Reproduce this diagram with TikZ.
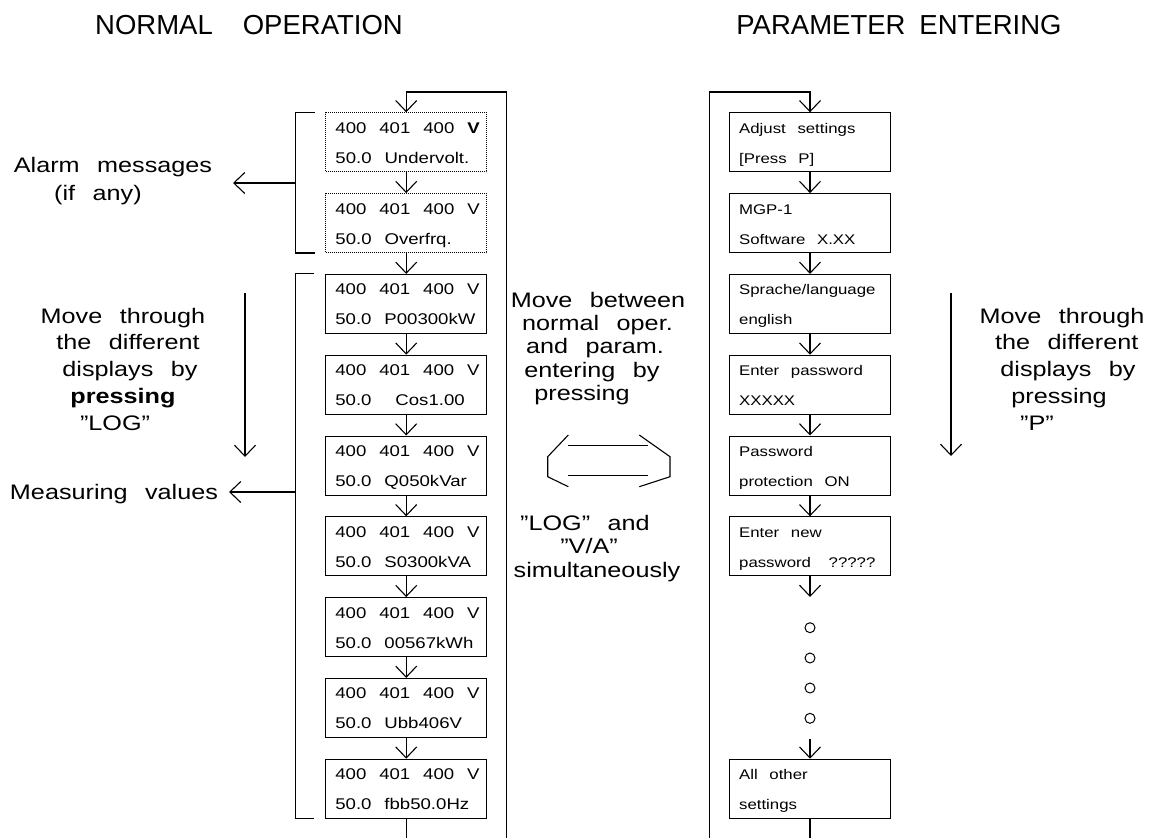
\documentclass[tikz,border=0pt]{standalone}
\usepackage{fontspec}
\setmainfont{Liberation Sans}[FakeStretch=1.2, WordSpace=2.5]
\newfontfamily\titlefont{Liberation Sans}[WordSpace=2.5]
\usetikzlibrary{arrows.meta,calc}
\tikzset{
  ln/.style={line width=1.1pt},
  vhead/.style={-{Straight Barb[length=11pt,width=21pt,line width=1.1pt]}},
  dbox/.style={draw, line width=1.1pt, minimum width=161pt, minimum height=59pt, inner sep=0pt, anchor=north},
  alarmbox/.style={dbox, line width=0.9pt, dash pattern=on 1pt off 1pt},
  ltxt/.style={anchor=base west, inner sep=0pt, font=\fontsize{15.5}{18}\selectfont},
  rtxt/.style={anchor=base west, inner sep=0pt, font=\fontsize{14}{16}\selectfont},
  side/.style={anchor=base, inner sep=0pt, font=\fontsize{21}{24}\selectfont},
  ttl/.style={anchor=base, inner sep=0pt, font=\titlefont\fontsize{27.5}{32}\selectfont},
  dotc/.style={circle, draw, line width=1pt, minimum size=10pt, inner sep=0pt},
}
\begin{document}
\begin{tikzpicture}[x=1pt,y=-1pt]
\useasboundingbox (0,0) rectangle (1153,838);

% titles
\node[ttl] (t1) at (249,34) {NORMAL\hspace{30pt}OPERATION};
\node[ttl] (t2) at (899,34) {PARAMETER\hspace{14pt}ENTERING};

% ---------------- left column ----------------
\node[alarmbox] (b1) at (406.2,112.3) {};
\node[alarmbox] (b2) at (406.2,193.1) {};
\foreach \i in {3,...,9}{
  \node[dbox] (b\i) at (406.2,{112.3+(\i-1)*80.8}) {};
}
\foreach \i/\u in {1/{50.0 Undervolt.},2/{50.0 Overfrq.},3/{50.0 P00300kW},
                   4/{50.0\hspace{11pt} Cos1.00},5/{50.0 Q050kVar},6/{50.0 S0300kVA},
                   7/{50.0 00567kWh},8/{50.0 Ubb406V},9/{50.0 fbb50.0Hz}}{
  \ifnum\i=1
    \node[ltxt] (bt\i) at ($(b\i.north west)+(10,21)$) {400 401 400 \textbf{V}};
  \else
    \node[ltxt] (bt\i) at ($(b\i.north west)+(10,21)$) {400 401 400 V};
  \fi
  \node[ltxt] (bu\i) at ($(b\i.north west)+(10,51)$) {\u};
}
\foreach \i in {1,...,8}{
  \pgfmathtruncatemacro\j{\i+1}
  \draw[ln,vhead] (b\i.south) -- (b\j.north);
}
\coordinate (lt) at (406.2,92);
\coordinate (lb) at (506.5,838);
\coordinate (lc) at (406.2,838);
\draw[ln,vhead] (lb) |- (lt) -- (b1.north);
\draw[ln] (b9.south) -- (lc);

% brackets
\draw[ln] ($(b1.north west)+(-10.7,0)$) -- ++(-19.3,0) coordinate (ab1)
          |- ($(b2.south west)+(-10.7,0)$);
\draw[ln] ($(b3.north west)+(-10.7,0)$) -- ++(-19.3,0) coordinate (mb1)
          |- ($(b9.south west)+(-10.7,0)$);
\coordinate (am) at (296,183);
\coordinate (amtip) at (233,183);
\draw[ln,vhead] (am) -- (amtip);
\coordinate (mm) at (296,492);
\coordinate (mmtip) at (229,492);
\draw[ln,vhead] (mm) -- (mmtip);

% left texts
\node[side] (al1) at (113,172) {Alarm messages};
\node[side] (al2) at (98,200) {(if any)};
\node[side] (mv) at (114,499) {Measuring values};

\node[side] (lm1) at (123,323) {Move through};
\node[side] (lm2) at (128,349.5) {the different};
\node[side] (lm3) at (130,376.5) {displays by};
\node[side] (lm4) at (123,403) {\bfseries pressing};
\node[side] (lm5) at (115,430) {”LOG”};
\coordinate (la1) at (245,293);
\coordinate (la2) at (245,457);
\draw[ln,vhead] (la1) -- (la2);

% middle
\node[side] (mt1) at (598,307) {Move between};
\node[side] (mt2) at (597.5,330) {normal oper.};
\node[side] (mt3) at (595,353) {and param.};
\node[side] (mt4) at (592,377) {entering by};
\node[side] (mt5) at (582,400) {pressing};
\node[side] (mt6) at (585,530) {”LOG” and};
\node[side] (mt7) at (589,553) {”V/A”};
\node[side] (mt8) at (597,577) {simultaneously};
\draw[ln] (568.3,435) -- (547.7,456.7) -- (547.7,476.7) -- (568.3,486.7);
\draw[ln] (639.3,435) -- (670,456.7) -- (670,476.7) -- (639.3,486.7);
\draw[ln] (568.3,445.7) -- (648.3,445.7);
\draw[ln] (568.3,475.7) -- (648.3,475.7);

% ---------------- right column ----------------
\foreach \i/\k in {1/0,2/1,3/2,4/3,5/4,6/5,7/8}{
  \node[dbox] (r\i) at (810,{112.3+\k*80.8}) {};
}
\foreach \i/\a/\b in {1/{Adjust settings}/{[Press P]},
                      2/{MGP-1}/{Software X.XX},
                      3/{Sprache/language}/{english},
                      4/{Enter password}/{XXXXX},
                      5/{Password}/{protection ON},
                      6/{Enter new}/{password\hspace{6pt} ?????},
                      7/{All other}/{settings}}{
  \node[rtxt] (rt\i) at ($(r\i.north west)+(10,21)$) {\a};
  \node[rtxt] (ru\i) at ($(r\i.north west)+(10,51)$) {\b};
}
\foreach \i in {1,...,5}{
  \pgfmathtruncatemacro\j{\i+1}
  \draw[ln,vhead] (r\i.south) -- (r\j.north);
}
\coordinate (rt) at (810,92);
\coordinate (rb) at (709.3,838);
\coordinate (rc) at (810,838);
\draw[ln,vhead] (rb) |- (rt) -- (r1.north);
\coordinate (rd1) at (810,597);
\draw[ln,vhead] (r6.south) -- (rd1);
\node[dotc] (c1) at (810,627.7) {};
\node[dotc] (c2) at (810,658) {};
\node[dotc] (c3) at (810,688) {};
\node[dotc] (c4) at (810,718.3) {};
\coordinate (rd2) at (810,739);
\draw[ln,vhead] (rd2) -- (r7.north);
\draw[ln] (r7.south) -- (rc);

% right texts
\node[side] (rm1) at (1062,323) {Move through};
\node[side] (rm2) at (1066.7,349.5) {the different};
\node[side] (rm3) at (1068,376.5) {displays by};
\node[side] (rm4) at (1059,403) {pressing};
\node[side] (rm5) at (1037,430) {”P”};
\coordinate (ra1) at (951,293);
\coordinate (ra2) at (951,456);
\draw[ln,vhead] (ra1) -- (ra2);
\end{tikzpicture}
\end{document}
